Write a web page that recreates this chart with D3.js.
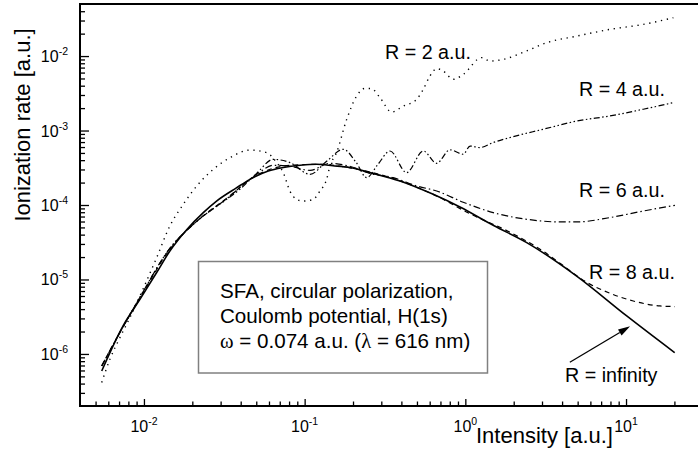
<!DOCTYPE html>
<html>
<head>
<meta charset="utf-8">
<script src="https://cdn.jsdelivr.net/npm/d3@7"></script>
<style>
  body { margin: 0; background: #fff; }
  svg { display: block; font-family: "Liberation Sans", Arial, sans-serif; }
</style>
</head>
<body>
<svg id="chart" width="698" height="456"></svg>
<script>
// [intensity (a.u.), ionization rate (a.u.)]
const rInf = [
  [0.00546, 5.9e-7], [0.00743, 2.4e-6], [0.00944, 5.4e-6], [0.0120, 1.24e-5],
  [0.0145, 2.41e-5], [0.0185, 4.7e-5], [0.0234, 7.9e-5], [0.0283, 1.13e-4],
  [0.0378, 1.71e-4], [0.0457, 2.21e-4], [0.0594, 2.86e-4], [0.0737, 3.18e-4],
  [0.094, 3.41e-4], [0.119, 3.52e-4], [0.15, 3.37e-4], [0.191, 3.18e-4],
  [0.255, 2.72e-4], [0.392, 2.10e-4], [0.631, 1.39e-4], [0.926, 9.4e-5],
  [1.5, 5.3e-5], [2.41, 3.13e-5], [4.93, 1.11e-5], [10.1, 3.24e-6],
  [20.1, 1.04e-6]
]
const r2 = [
  [0.00546, 4.13e-7], [0.00614, 8.5e-7], [0.00709, 1.66e-6], [0.00818, 3.08e-6],
  [0.0120, 1.97e-5], [0.0145, 5.23e-5], [0.01756, 1.02e-4], [0.0213, 1.80e-4],
  [0.0270, 3.01e-4], [0.0343, 4.32e-4], [0.0457, 5.47e-4], [0.058, 5.05e-4],
  [0.067, 3.71e-4], [0.0736, 2.72e-4], [0.081, 1.54e-4], [0.0892, 1.19e-4],
  [0.098, 1.13e-4], [0.1131, 1.19e-4], [0.1245, 1.54e-4], [0.137, 2.21e-4],
  [0.1437, 3.34e-4], [0.158, 5.05e-4], [0.1826, 1.41e-3], [0.2107, 2.90e-3],
  [0.2372, 3.68e-3], [0.2612, 3.65e-3], [0.294, 2.77e-3], [0.348, 1.77e-3],
  [0.411, 2.13e-3], [0.498, 2.62e-3], [0.547, 3.57e-3], [0.602, 5.39e-3],
  [0.663, 6.78e-3], [0.729, 6.29e-3], [0.841, 4.87e-3], [0.970, 5.67e-3],
  [1.263, 9.52e-3], [1.422, 8.57e-3], [1.721, 9.03e-3], [2.407, 1.17e-2],
  [3.205, 1.51e-2], [4.927, 1.85e-2], [7.94, 2.28e-2], [12.8, 2.66e-2],
  [19.7, 3.27e-2]
]
const r4 = [
  [0.00546, 6.9e-7], [0.00709, 1.95e-6], [0.00944, 5.77e-6], [0.0145, 2.62e-5],
  [0.0203, 5.51e-5], [0.0257, 8.30e-5], [0.0327, 1.19e-4], [0.0396, 1.63e-4],
  [0.0503, 2.66e-4], [0.0638, 4.10e-4], [0.081, 3.71e-4], [0.108, 2.58e-4],
  [0.137, 3.86e-4], [0.174, 5.60e-4], [0.209, 3.74e-4], [0.243, 2.33e-4],
  [0.286, 3.52e-4], [0.340, 5.31e-4], [0.431, 2.72e-4], [0.547, 5.31e-4],
  [0.663, 3.63e-4], [0.802, 5.51e-4], [0.970, 4.80e-4], [1.07, 6.19e-4],
  [1.23, 5.90e-4], [1.49, 6.89e-4], [1.89, 8.04e-4], [3.05, 1.04e-3],
  [4.93, 1.34e-3], [7.94, 1.57e-3], [12.8, 1.93e-3], [19.7, 2.37e-3]
]
const r6 = [
  [0.00546, 6.9e-7], [0.00709, 1.95e-6], [0.00944, 5.77e-6], [0.0145, 2.62e-5],
  [0.0203, 5.51e-5], [0.0327, 1.21e-4], [0.0503, 2.58e-4], [0.0638, 3.41e-4],
  [0.081, 3.31e-4], [0.108, 2.92e-4], [0.144, 3.63e-4], [0.191, 3.31e-4],
  [0.255, 2.66e-4], [0.356, 2.33e-4], [0.498, 1.80e-4], [0.663, 1.54e-4],
  [0.970, 1.09e-4], [1.49, 7.91e-5], [2.41, 6.43e-5], [3.88, 5.92e-5],
  [4.93, 5.92e-5], [7.94, 6.78e-5], [12.8, 8.30e-5], [20.15, 9.91e-5]
]
const r8 = [
  [0.00546, 6.9e-7], [0.00709, 1.95e-6], [0.00944, 5.6e-6], [0.0145, 2.54e-5],
  [0.0203, 5.51e-5], [0.0327, 1.23e-4], [0.0503, 2.51e-4], [0.081, 3.41e-4],
  [0.1245, 3.52e-4], [0.191, 3.16e-4], [0.392, 2.11e-4], [0.631, 1.39e-4],
  [1.07, 7.62e-5], [1.894, 4.31e-5], [3.053, 2.39e-5], [3.879, 1.65e-5],
  [5.685, 9.17e-6], [7.94, 6.53e-6], [11.09, 5.14e-6], [16.25, 4.41e-6],
  [20.15, 4.33e-6]
]

const xMajor = [1e-2, 1e-1, 1, 10]
const yMajor = [1e-6, 1e-5, 1e-4, 1e-3, 1e-2]
const legendLines = ['SFA, circular polarization,', 'Coulomb potential, H(1s)']

const width = 698
const height = 456
const svg = d3.select('#chart')

svg.append('rect').attr('width', width).attr('height', height).attr('fill', '#fff')

// plot box runs a little past the right edge of the picture
const x = d3.scaleLog().domain([0.004, 30]).range([80, 702.7])
const y = d3.scaleLog().domain([2e-7, 0.05]).range([406, 4])

const minors = (lo, hi) => {
  const out = []
  for (let e = -8; e <= 2; e++) {
    for (let m = 2; m <= 9; m++) {
      const v = m * Math.pow(10, e)
      if (v > lo * 1.0001 && v < hi * 0.9999) out.push(v)
    }
  }
  return out
}

// y axis, ticks pointing inward
const yAxisG = svg.append('g').attr('transform', 'translate(80,0)')
yAxisG.append('g').call(d3.axisLeft(y).tickValues(yMajor).tickSize(-9).tickFormat(''))
yAxisG.append('g').call(d3.axisLeft(y).tickValues(minors(2e-7, 0.05)).tickSize(-5).tickFormat(''))
yAxisG.selectAll('.domain').remove()
yAxisG.selectAll('line').attr('stroke', '#000').attr('stroke-width', 1.3)

// x axis, ticks pointing inward
const xAxisG = svg.append('g').attr('transform', 'translate(0,406)')
xAxisG.append('g').call(d3.axisBottom(x).tickValues(xMajor).tickSize(-7).tickFormat(''))
xAxisG.append('g').call(d3.axisBottom(x).tickValues(minors(0.004, 30)).tickSize(-4.5).tickFormat(''))
xAxisG.selectAll('.domain').remove()
xAxisG.selectAll('line').attr('stroke', '#000').attr('stroke-width', 1.3)

// frame
svg.append('rect')
  .attr('x', 80).attr('y', 4)
  .attr('width', x.range()[1] - 80).attr('height', 402)
  .attr('fill', 'none').attr('stroke', '#000').attr('stroke-width', 2)

// tick labels 10^n
const expOf = v => Math.round(Math.log10(v))
yMajor.forEach(v => {
  const t = svg.append('text')
    .attr('x', 68).attr('y', y(v) + 6)
    .attr('text-anchor', 'end').attr('font-size', 16)
  t.append('tspan').text('10')
  t.append('tspan').attr('font-size', 10.5).attr('dy', -7).text(expOf(v))
})
xMajor.forEach(v => {
  const t = svg.append('text')
    .attr('x', x(v)).attr('y', 432)
    .attr('text-anchor', 'middle').attr('font-size', 16)
  t.append('tspan').text('10')
  t.append('tspan').attr('font-size', 10.5).attr('dy', -7).text(expOf(v))
})

// axis titles
svg.append('text')
  .attr('transform', 'translate(30,125) rotate(-90)')
  .attr('text-anchor', 'middle').attr('font-size', 22)
  .text('Ionization rate [a.u.]')
svg.append('text')
  .attr('x', 476).attr('y', 443)
  .attr('font-size', 22)
  .text('Intensity [a.u.]')

// curves
const line = d3.line()
  .x(d => x(d[0]))
  .y(d => y(d[1]))
  .curve(d3.curveMonotoneX)

const series = [
  { data: r8, dash: '5,4', w: 1.2 },
  { data: r6, dash: '7,3,1.5,3', w: 1.2 },
  { data: r4, dash: '6,2.5,1.5,2.5,1.5,2.5', w: 1.2 },
  { data: r2, dash: '1.3,4.7', w: 1.4 },
  { data: rInf, dash: null, w: 1.6 }
]
series.forEach(s => {
  svg.append('path')
    .attr('d', line(s.data))
    .attr('fill', 'none')
    .attr('stroke', '#000')
    .attr('stroke-width', s.w)
    .attr('stroke-dasharray', s.dash)
    .attr('stroke-linejoin', 'round')
})

// legend box
svg.append('rect')
  .attr('x', 198.5).attr('y', 261.5).attr('width', 289).attr('height', 111.5)
  .attr('fill', '#fff').attr('stroke', '#808080').attr('stroke-width', 1.5)
legendLines.forEach((txt, i) => {
  svg.append('text').attr('x', 220).attr('y', 298 + i * 25).attr('font-size', 20.6).text(txt)
})
const third = svg.append('text').attr('x', 220).attr('y', 348).attr('font-size', 20.6)
third.append('tspan').attr('font-family', '"Liberation Serif", serif').text('ω')
third.append('tspan').text(' = 0.074 a.u. (')
third.append('tspan').attr('font-family', '"Liberation Serif", serif').text('λ')
third.append('tspan').text(' = 616 nm)')

// curve labels
const labels = [
  ['R = 2 a.u.', 385, 59],
  ['R = 4 a.u.', 579, 96],
  ['R = 6 a.u.', 579, 197],
  ['R = 8 a.u.', 589, 279],
  ['R = infinity', 565, 382]
]
labels.forEach(([t, lx, ly]) => {
  svg.append('text').attr('x', lx).attr('y', ly).attr('font-size', 19.7).text(t)
})

// arrow pointing at the R = infinity curve
const tail = [4.47, 7.74e-7]
const head = [10.6, 2.35e-6]
const x0 = x(tail[0]), y0 = y(tail[1]), x1 = x(head[0]), y1 = y(head[1])
const ang = Math.atan2(y1 - y0, x1 - x0)
const hl = 12, hw = 3.5
const bx = x1 - hl * Math.cos(ang), by = y1 - hl * Math.sin(ang)
svg.append('line')
  .attr('x1', x0).attr('y1', y0).attr('x2', bx).attr('y2', by)
  .attr('stroke', '#000').attr('stroke-width', 1.3)
svg.append('path')
  .attr('d', `M${x1},${y1}L${bx - hw * Math.sin(ang)},${by + hw * Math.cos(ang)}L${bx + hw * Math.sin(ang)},${by - hw * Math.cos(ang)}Z`)
  .attr('fill', '#000')
</script>
</body>
</html>
